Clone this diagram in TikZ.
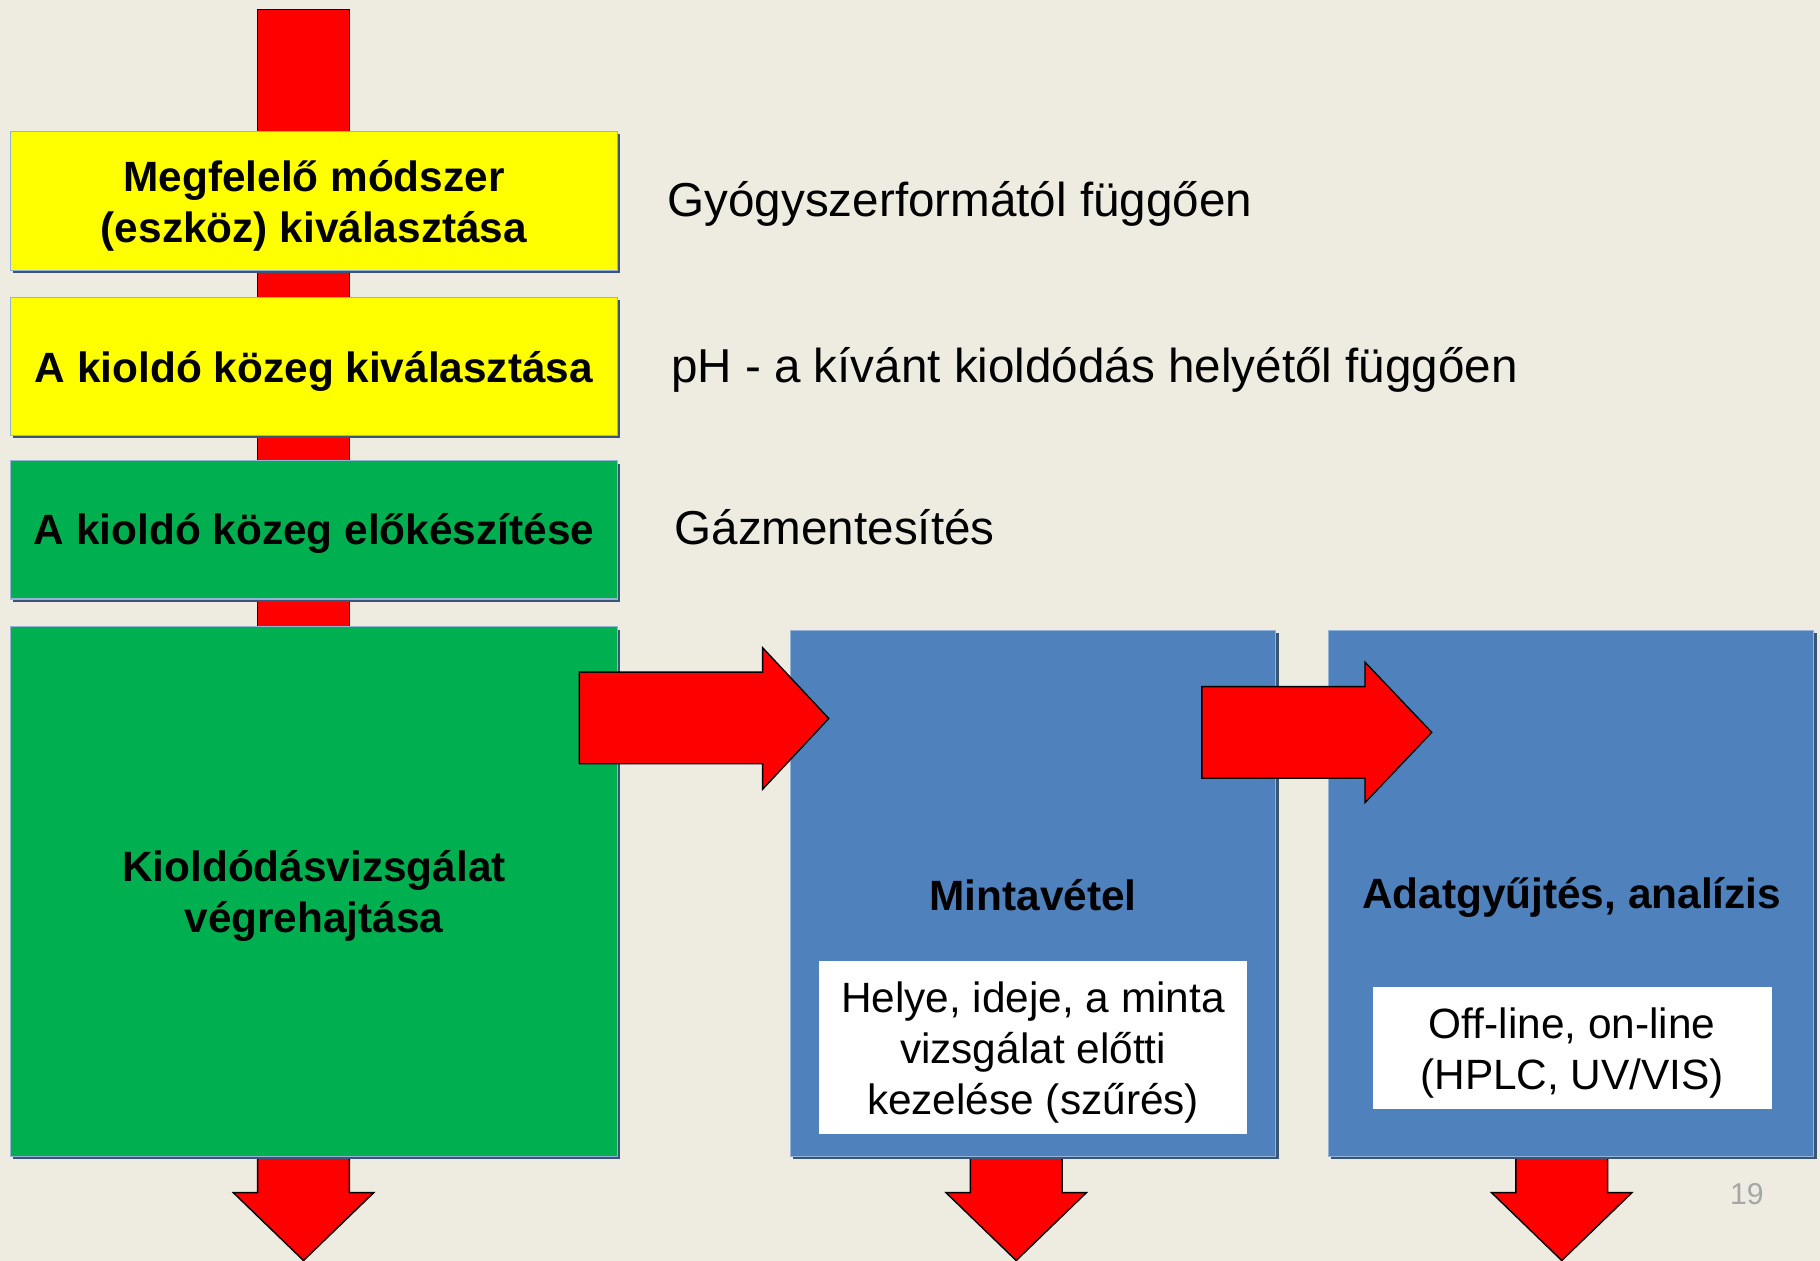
\documentclass[tikz,border=0pt]{standalone}
\usepackage{fontspec}
\setmainfont{Liberation Sans}
\usetikzlibrary{shadows}
\definecolor{bg}{HTML}{EEEBE0}
\definecolor{yel}{HTML}{FFFF00}
\definecolor{grn}{HTML}{00B050}
\definecolor{blu}{HTML}{4F81BD}
\definecolor{redc}{HTML}{FF0000}
\definecolor{edgec}{HTML}{95B3D7}
\definecolor{shadc}{HTML}{3B5577}
\definecolor{numc}{HTML}{A6A6A6}
\begin{document}
\begin{tikzpicture}[x=1pt,y=-1pt,
  box/.style={draw=edgec, line width=1pt, inner sep=0pt,
    drop shadow={shadow xshift=2.5pt, shadow yshift=-2.5pt, fill=shadc, opacity=1}},
  ybox/.style={box, fill=yel, minimum width=523pt},
  gbox/.style={box, fill=grn, minimum width=523pt},
  bbox/.style={box, fill=blu, minimum width=418pt, minimum height=453pt},
  wbox/.style={fill=white, inner sep=0pt},
  title/.style={inner sep=0pt, align=center, font=\bfseries\fontsize{36.5}{44}\selectfont},
  wtext/.style={inner sep=0pt, align=center, font=\fontsize{36.5}{44}\selectfont},
  side/.style={inner sep=0pt, anchor=west, font=\fontsize{41}{49}\selectfont},
  blockarrow/.style={fill=redc, draw=black, line width=1.2pt, line join=miter}]
\useasboundingbox (0,0) rectangle (1568,1086);
\fill[bg] (0,0) rectangle (1568,1086);

% vertical red bar behind the left column
\draw[blockarrow] (222,8) rectangle (301,548);

% downward block arrows (shafts start under the boxes)
\draw[blockarrow] (222,990) -- (301,990) -- (301,1027.5) -- (322,1027.5) -- (261.5,1086) -- (201,1027.5) -- (222,1027.5) -- cycle;
\draw[blockarrow] (836,990) -- (915,990) -- (915,1027.5) -- (936,1027.5) -- (875.5,1086) -- (815,1027.5) -- (836,1027.5) -- cycle;
\draw[blockarrow] (1306,990) -- (1385,990) -- (1385,1027.5) -- (1406,1027.5) -- (1345.5,1086) -- (1285,1027.5) -- (1306,1027.5) -- cycle;

% left column boxes
\node[ybox, minimum height=120pt] (b1) at (270.5,173) {};
\node[ybox, minimum height=119pt] (b2) at (270.5,315.5) {};
\node[gbox, minimum height=119pt] (b3) at (270.5,456.5) {};
\node[gbox, minimum height=456pt] (b4) at (270.5,768) {};
\node[title, yshift=-4pt] (t1) at (b1.center) {Megfelelő módszer\\(eszköz) kiválasztása};
\node[title, yshift=-4.5pt] (t2) at (b2.center) {A kioldó közeg kiválasztása};
\node[title, yshift=-3.5pt] (t3) at (b3.center) {A kioldó közeg előkészítése};
\node[title, yshift=-4pt] (t4) at (b4.center) {Kioldódásvizsgálat\\végrehajtása};

% blue boxes
\node[bbox] (m) at (890,769.5) {};
\node[bbox] (a) at (1353.5,769.5) {};
\node[title] (mt) at (890,771) {Mintavétel};
\node[title] (at) at (1354,773.5) {Adatgyűjtés, analízis};
\node[wbox, minimum width=368pt, minimum height=149pt] (mw) at (890,902.5) {};
\node[wbox, minimum width=344pt, minimum height=105pt] (aw) at (1354.5,903) {};
\node[wtext, yshift=-4pt] (mwt) at (mw.center) {Helye, ideje, a minta\\vizsgálat előtti\\kezelése (szűrés)};
\node[wtext, yshift=-4.5pt] (awt) at (aw.center) {Off-line, on-line\\(HPLC, UV/VIS)};

% right block arrows
\draw[blockarrow] (499,579) -- (657,579) -- (657,558) -- (714,619) -- (657,680) -- (657,658) -- (499,658) -- cycle;
\draw[blockarrow] (1035.5,591.5) -- (1176,591.5) -- (1176,570.5) -- (1233.5,631) -- (1176,691.5) -- (1176,670.5) -- (1035.5,670.5) -- cycle;

% side texts
\node[side] (s1) at (575,176) {Gyógyszerformától függően};
\node[side] (s2) at (578,319) {pH - a kívánt kioldódás helyétől függően};
\node[side] (s3) at (581,454) {Gázmentesítés};

\node[inner sep=0pt, text=numc, font=\fontsize{26}{30}\selectfont] (pg) at (1505,1029) {19};
\end{tikzpicture}
\end{document}
